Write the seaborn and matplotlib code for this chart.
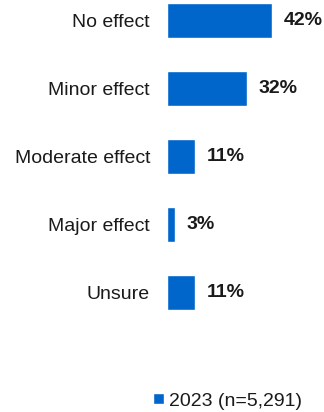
import matplotlib
matplotlib.use("Agg")
import matplotlib.pyplot as plt
import seaborn as sns
import pandas as pd

# survey answers and shares (%)
categories = ['No effect', 'Minor effect', 'Moderate effect', 'Major effect', 'Unsure']
values = [42, 32, 11, 3, 11]
series_name = '2023 (n=5,291)'

df = pd.DataFrame({'answer': categories, 'share': values, 'year': series_name})

sns.set_theme(style='white')
plt.rcParams['font.family'] = ['Liberation Sans', 'DejaVu Sans']

fig = plt.figure(figsize=(3.24, 4.12), dpi=100)
ax = fig.add_axes([167 / 324, 1 - 326.5 / 412, 150 / 324, 326.5 / 412])

sns.barplot(data=df, y='answer', x='share', hue='year', palette=['#0066CC'],
            saturation=1, width=0.515, orient='h', ax=ax)

# padding is in points: 12 px gap at 100 dpi
for c in ax.containers:
    ax.bar_label(c, labels=[f'{v}%' for v in values], padding=8.6,
                 fontsize=14, fontweight='bold', color='#1a1a1a')

ax.set_xlim(0, 60)
ax.set_ylim(4.5, -0.3015)
ax.set_xlabel('')
ax.set_ylabel('')
ax.set_xticks([])
ax.tick_params(axis='y', length=0, pad=12.2, labelsize=14, labelcolor='#1a1a1a')
sns.despine(ax=ax, left=True, bottom=True)

ax.get_legend().remove()
handles, labels = ax.get_legend_handles_labels()
fig.legend(handles, labels, loc='center left', bbox_to_anchor=(153 / 324, 1 - 401 / 412),
           frameon=False, fontsize=14, handlelength=0.55, handleheight=0.55,
           handletextpad=0.25, borderaxespad=0, borderpad=0, labelcolor='#1a1a1a')

fig.savefig('out.png', dpi=100)
